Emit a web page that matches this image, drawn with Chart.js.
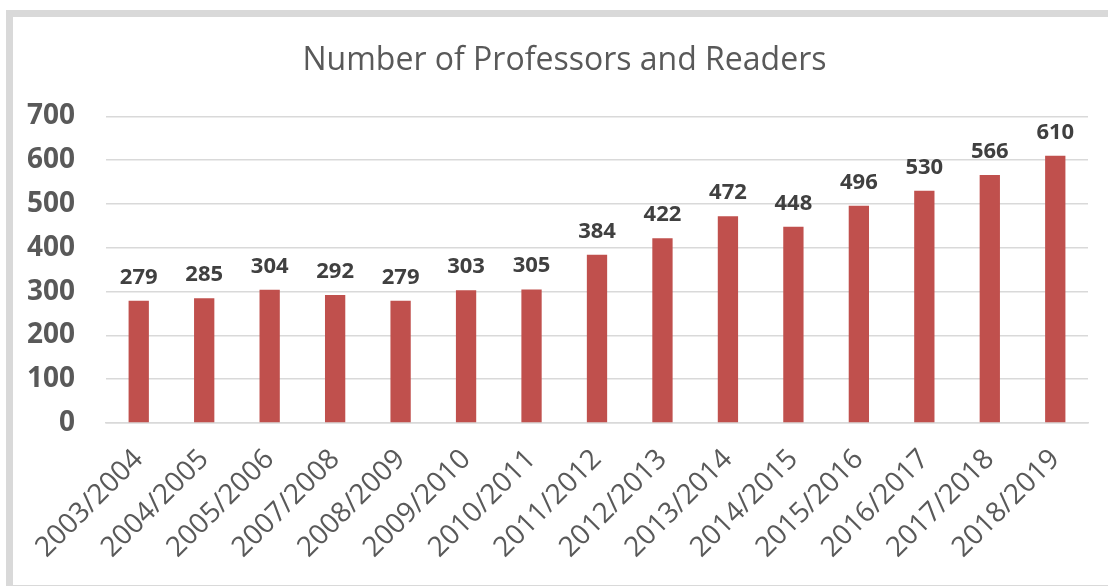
<!DOCTYPE html>
<html>
<head>
<meta charset="utf-8">
<script src="https://cdn.jsdelivr.net/npm/chart.js@4/dist/chart.umd.min.js"></script>
<style>
  html, body { margin: 0; padding: 0; background: #fff; }
  body { width: 1108px; height: 587px; position: relative; overflow: hidden; }
  #frame {
    position: absolute; left: 6px; top: 10px; width: 1102px; height: 576px;
    border-left: 7px solid #d9d9d9; border-top: 7px solid #d9d9d9;
    border-bottom: 1px solid #d9d9d9; box-sizing: border-box;
  }
  #myChart { position: absolute; left: 13px; top: 17px; }
</style>
</head>
<body>
<div id="frame"></div>
<canvas id="myChart" width="1095" height="569"></canvas>
<script>
'use strict';
const years = ['2003/2004', '2004/2005', '2005/2006', '2007/2008', '2008/2009',
  '2009/2010', '2010/2011', '2011/2012', '2012/2013', '2013/2014',
  '2014/2015', '2015/2016', '2016/2017', '2017/2018', '2018/2019'];
const professors = [279, 285, 304, 292, 279, 303, 305, 384, 422, 472, 448, 496, 530, 566, 610];
const yTicks = [0, 100, 200, 300, 400, 500, 600, 700];

const barColor = '#C0504D';
const gridColor = '#d9d9d9';
const textColor = '#595959';

// value labels above each bar
const valueLabels = {
  id: 'valueLabels',
  afterDatasetsDraw(chart) {
    const ctx = chart.ctx;
    const meta = chart.getDatasetMeta(0);
    ctx.save();
    ctx.font = 'bold 22px "Open Sans"';
    ctx.fillStyle = '#404040';
    ctx.textAlign = 'center';
    ctx.textBaseline = 'alphabetic';
    meta.data.forEach(function(bar, i) {
      ctx.fillText(professors[i], bar.x, bar.y - 17);
    });
    ctx.restore();
  }
};

const ctx = document.getElementById('myChart').getContext('2d');
const myChart = new Chart(ctx, {
  type: 'bar',
  data: {
    labels: years,
    datasets: [{
      label: 'Professors and Readers',
      data: professors,
      backgroundColor: barColor,
      borderWidth: 0,
      barPercentage: 0.31,
      categoryPercentage: 1
    }]
  },
  options: {
    responsive: false,
    animation: false,
    layout: { padding: { left: 8, right: 0, top: 0, bottom: 0 } },
    plugins: {
      legend: { display: false },
      tooltip: { enabled: false },
      title: {
        display: true,
        text: 'Number of Professors and Readers',
        color: textColor,
        font: { family: 'Open Sans', size: 32, weight: 'normal' },
        padding: { top: 25, bottom: 36 }
      }
    },
    scales: {
      x: {
        grid: { display: false },
        border: { color: gridColor, width: 1.5 },
        ticks: {
          color: textColor,
          font: { family: 'Open Sans', size: 28 },
          minRotation: 45,
          maxRotation: 45,
          autoSkip: false,
          padding: 12
        },
        afterFit(scale) { scale.height = 163; }
      },
      y: {
        min: 0,
        max: 700,
        afterBuildTicks(scale) { scale.ticks = yTicks.map(v => ({ value: v })); },
        grid: { color: gridColor, lineWidth: 1.5, drawTicks: false },
        border: { display: false },
        ticks: {
          color: textColor,
          font: { family: 'Open Sans', size: 28, weight: 'bold' },
          padding: 31
        },
        afterFit(scale) { scale.width = 85; }
      },
      // empty strip on the right, keeps the plot clear of the frame edge
      yRight: {
        position: 'right',
        min: 0,
        max: 700,
        grid: { display: false, drawTicks: false },
        border: { display: false },
        ticks: { display: false },
        afterFit(scale) { scale.width = 20; }
      }
    }
  },
  plugins: [valueLabels]
});
</script>
</body>
</html>
